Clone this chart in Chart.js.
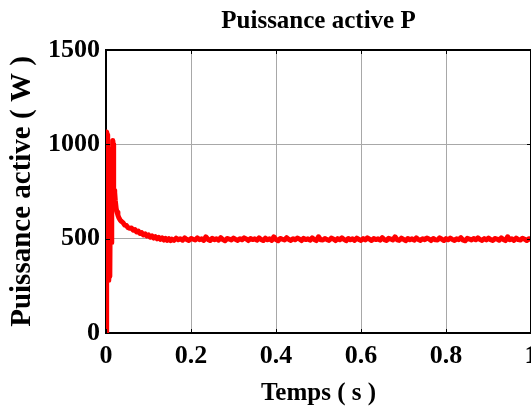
<!DOCTYPE html>
<html>
<head>
<meta charset="utf-8">
<script src="https://cdn.jsdelivr.net/npm/chart.js@4.4.1/dist/chart.umd.min.js"></script>
<style>
html,body{margin:0;padding:0;background:#fff;}
#wrap{width:531px;height:413px;position:relative;}
</style>
</head>
<body>
<div id="wrap"><canvas id="c" width="531" height="413"></canvas></div>
<script>
// ---- data ----
const chartTitle = 'Puissance active P';
const xTitle = 'Temps ( s )';
const yTitle = 'Puissance active ( W )';
const yTickLabels = ['0', '500', '1000', '1500'];
const xTickLabels = ['0', '0.2', '0.4', '0.6', '0.8', '1'];

// transient part (s, W)
const timeTransient = [0, 0.001, 0.002, 0.003, 0.004, 0.005, 0.006, 0.007, 0.008, 0.009,
  0.010, 0.011, 0.012, 0.013, 0.014, 0.015, 0.016, 0.017, 0.018, 0.019,
  0.020, 0.021, 0.022, 0.024, 0.026, 0.028, 0.030, 0.033, 0.036, 0.040,
  0.044, 0.048, 0.052, 0.056, 0.060, 0.064, 0.068, 0.072, 0.076, 0.080,
  0.084, 0.088, 0.092, 0.096, 0.100, 0.104, 0.108, 0.112, 0.116, 0.120,
  0.124, 0.128, 0.132, 0.136, 0.140, 0.144, 0.148, 0.152];
const powerTransient = [0, 520, 1065, 1050, 620, 280, 560, 760, 560, 300,
  640, 760, 480, 520, 750, 980, 1020, 1000, 760, 740,
  755, 745, 700, 660, 640, 625, 612, 600, 592, 585,
  572, 570, 558, 555, 556, 545, 548, 536, 540, 528,
  532, 520, 526, 514, 520, 508, 515, 503, 511, 499,
  507, 496, 504, 493, 502, 491, 500, 490];

// steady-state part (s, W)
const timeSteady = [
  0.155,0.160,0.165,0.170,0.175,0.180,0.185,0.190,0.195,0.200,
  0.205,0.210,0.215,0.220,0.225,0.230,0.235,0.240,0.245,0.250,
  0.255,0.260,0.265,0.270,0.275,0.280,0.285,0.290,0.295,0.300,
  0.305,0.310,0.315,0.320,0.325,0.330,0.335,0.340,0.345,0.350,
  0.355,0.360,0.365,0.370,0.375,0.380,0.385,0.390,0.395,0.400,
  0.405,0.410,0.415,0.420,0.425,0.430,0.435,0.440,0.445,0.450,
  0.455,0.460,0.465,0.470,0.475,0.480,0.485,0.490,0.495,0.500,
  0.505,0.510,0.515,0.520,0.525,0.530,0.535,0.540,0.545,0.550,
  0.555,0.560,0.565,0.570,0.575,0.580,0.585,0.590,0.595,0.600,
  0.605,0.610,0.615,0.620,0.625,0.630,0.635,0.640,0.645,0.650,
  0.655,0.660,0.665,0.670,0.675,0.680,0.685,0.690,0.695,0.700,
  0.705,0.710,0.715,0.720,0.725,0.730,0.735,0.740,0.745,0.750,
  0.755,0.760,0.765,0.770,0.775,0.780,0.785,0.790,0.795,0.800,
  0.805,0.810,0.815,0.820,0.825,0.830,0.835,0.840,0.845,0.850,
  0.855,0.860,0.865,0.870,0.875,0.880,0.885,0.890,0.895,0.900,
  0.905,0.910,0.915,0.920,0.925,0.930,0.935,0.940,0.945,0.950,
  0.955,0.960,0.965,0.970,0.975,0.980,0.985,0.990,0.995,1.000];
const powerSteady = [
  498,491,503,494,500,492,504,496,490,501,
  497,493,504,495,499,491,510,496,490,502,
  494,500,492,505,495,489,501,498,493,503,
  496,491,500,494,504,498,490,501,495,499,
  492,504,496,490,503,494,499,491,510,495,
  489,501,497,493,505,496,491,500,494,503,
  498,490,502,495,499,492,504,496,490,510,
  494,493,501,495,491,503,498,490,500,494,
  504,496,489,501,494,499,491,503,496,491,
  500,493,504,497,490,501,495,499,492,505,
  495,490,502,498,493,510,494,491,503,496,
  489,501,494,499,492,504,496,491,500,495,
  503,498,490,501,494,493,504,497,490,500,
  494,503,496,491,499,495,505,492,489,502,
  498,493,501,494,504,496,491,500,493,503,
  495,490,501,498,492,504,496,490,510,494,
  499,491,503,495,493,502,497,490,500,496];

const timeAll = timeTransient.concat(timeSteady);
const powerAll = powerTransient.concat(powerSteady);
const points = timeAll.map((t, i) => ({x: t, y: powerAll[i]}));

const FONT = "'Liberation Serif', 'Times New Roman', serif";

// MATLAB-style box and inward ticks
const boxPlugin = {
  id: 'box',
  afterDatasetsDraw(chart) {
    const {ctx, chartArea: a, scales: {x, y}} = chart;
    ctx.save();
    ctx.strokeStyle = '#000';
    ctx.lineWidth = 1;
    const L = 4;
    ctx.beginPath();
    x.ticks.forEach(t => {
      const px = Math.round(x.getPixelForValue(t.value)) + 0.5;
      ctx.moveTo(px, a.bottom); ctx.lineTo(px, a.bottom - L);
      ctx.moveTo(px, a.top); ctx.lineTo(px, a.top + L);
    });
    y.ticks.forEach(t => {
      const py = Math.round(y.getPixelForValue(t.value)) + 0.5;
      ctx.moveTo(a.left, py); ctx.lineTo(a.left + L, py);
      ctx.moveTo(a.right, py); ctx.lineTo(a.right - L, py);
    });
    ctx.stroke();
    ctx.lineWidth = 2;
    ctx.beginPath();
    ctx.moveTo(a.left, a.top); ctx.lineTo(a.right, a.top);
    ctx.moveTo(a.right, a.top); ctx.lineTo(a.right, a.bottom);
    ctx.stroke();
    ctx.restore();
  }
};

new Chart(document.getElementById('c'), {
  type: 'line',
  data: {
    datasets: [{
      data: points,
      borderColor: '#ff0000',
      borderWidth: 5,
      borderJoinStyle: 'round',
      borderCapStyle: 'round',
      pointRadius: 0,
      tension: 0,
      fill: false
    }]
  },
  options: {
    responsive: false,
    animation: false,
    events: [],
    layout: {padding: 0},
    plugins: {
      legend: {display: false},
      tooltip: {enabled: false},
      title: {
        display: true,
        fullSize: false,
        text: chartTitle,
        color: '#000',
        font: {family: FONT, size: 25, weight: 'bold', lineHeight: 1.2},
        padding: {top: 7, bottom: 13}
      }
    },
    scales: {
      x: {
        type: 'linear',
        min: 0, max: 1,
        ticks: {
          stepSize: 0.2,
          color: '#000',
          padding: 8,
          maxRotation: 0,
          font: {family: FONT, size: 26, weight: 'bold'},
          callback: (v, i) => xTickLabels[i]
        },
        grid: {color: '#a8a8a8', lineWidth: 1, drawTicks: false},
        border: {color: '#000', width: 2},
        title: {
          display: true,
          text: xTitle,
          color: '#000',
          font: {family: FONT, size: 25, weight: 'bold', lineHeight: 1.2},
          padding: {top: 0, bottom: 4}
        },
        afterFit: s => { s.height = 80; s.paddingRight = 0; s.paddingLeft = 0; }
      },
      y: {
        min: 0, max: 1500,
        ticks: {
          stepSize: 500,
          color: '#000',
          padding: 6,
          font: {family: FONT, size: 26, weight: 'bold'},
          callback: (v, i) => yTickLabels[i]
        },
        grid: {color: '#a8a8a8', lineWidth: 1, drawTicks: false},
        border: {color: '#000', width: 2},
        title: {
          display: true,
          text: yTitle,
          color: '#000',
          font: {family: FONT, size: 29, weight: 'bold', lineHeight: 1.2},
          padding: {top: 5, bottom: 0}
        },
        afterFit: s => { s.width = 106; }
      }
    }
  },
  plugins: [boxPlugin]
});
</script>
</body>
</html>
